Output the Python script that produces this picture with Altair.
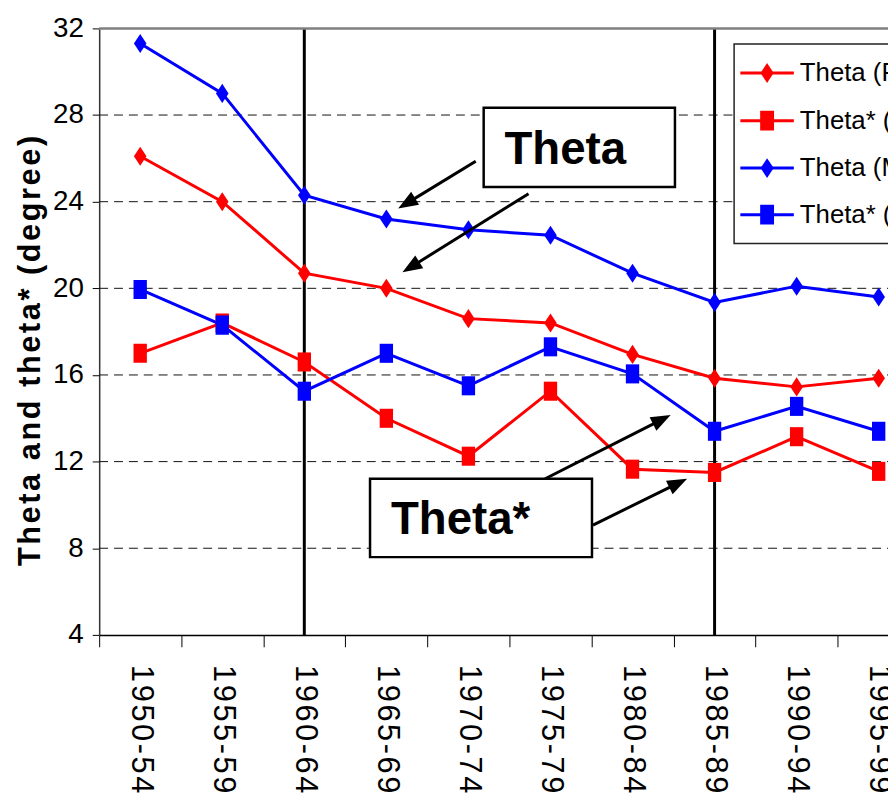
import math
import json
import altair as alt
import pandas as pd

# ---------------- data ----------------
periods = ["1950-54", "1955-59", "1960-64", "1965-69", "1970-74",
           "1975-79", "1980-84", "1985-89", "1990-94", "1995-99"]
series_names = ["Theta (F)", "Theta* (F)", "Theta (M)", "Theta* (M)"]
theta_f = [26.1, 24.0, 20.7, 20.0, 18.6, 18.4, 16.95, 15.85, 15.45, 15.85]
theta_star_f = [17.0, 18.4, 16.6, 14.0, 12.25, 15.25, 11.65, 11.5, 13.15, 11.55]
theta_m = [31.3, 29.0, 24.3, 23.2, 22.7, 22.45, 20.7, 19.35, 20.1, 19.6]
theta_star_m = [19.95, 18.3, 15.25, 17.0, 15.5, 17.3, 16.05, 13.4, 14.55, 13.4]
series_values = [theta_f, theta_star_f, theta_m, theta_star_m]
series_colors = ["#FF0000", "#FF0000", "#0000FF", "#0000FF"]
break_periods = ["1960-64", "1985-89"]
y_ticks = [4, 8, 12, 16, 20, 24, 28, 32]
grid_values = [8, 12, 16, 20, 24, 28]
y_title = "Theta and theta* (degree)"

# annotation boxes (data coordinates: x = period index, y = degrees)
box_labels = ["Theta", "Theta*"]
box_x1 = [4.186, 2.801]
box_x2 = [6.517, 5.506]
box_y1 = [28.34, 11.21]
box_y2 = [24.68, 7.59]
box_text_x = [5.18, 3.905]
box_text_y = [25.74, 8.66]
arrow_x1 = [4.089, 4.733, 4.935, 5.518]
arrow_y1 = [25.87, 24.37, 11.21, 9.07]
arrow_x2 = [3.144, 3.196, 6.465, 6.665]
arrow_y2 = [23.68, 20.74, 14.15, 11.21]

# legend placement (data coordinates)
legend_rows_y = [29.94, 27.74, 25.55, 23.40]
legend_box = [7.238, 9.9, 31.28, 22.07]
legend_line_x = [7.314, 7.966]
legend_sym_x = 7.64
legend_text_x = 8.039

# ---------------- styling ----------------
W, H = 796, 612
PX_X = 82.8
X_MAX = -0.5 + W / PX_X
PX_Y = H / 28.0
FONT = "Liberation Sans, Arial, sans-serif"
BOLD_FONT = "Liberation Sans, Arial, sans-serif"
DIAMOND = "M0,-1L0.66,0L0,1L-0.66,0Z"
SQUARE = "M-0.7,-1L0.7,-1L0.7,1L-0.7,1Z"
ARROW = "M0,0L0.38,1L-0.38,1Z"
series_shapes = [DIAMOND, SQUARE, DIAMOND, SQUARE]
HAIR = "\u200a"

spaced_periods = [HAIR.join(p) for p in periods]
label_expr = json.dumps(spaced_periods, ensure_ascii=False) + "[datum.value]"

XS = alt.Scale(domain=[-0.5, X_MAX], nice=False, zero=False)
YS = alt.Scale(domain=[4, 32], nice=False, zero=False)
X_AXIS = alt.Axis(values=list(range(len(periods))), labelExpr=label_expr, title=None,
                  tickOffset=-PX_X / 2, labelOffset=PX_X / 2, tickSize=12,
                  tickColor="black", tickWidth=1, domainColor="black", domainWidth=1.5,
                  labelAngle=90, labelAlign="left", labelBaseline="middle",
                  labelPadding=18, labelFont=FONT, labelFontSize=31, labelColor="black",
                  labelOverlap=False, labelFlush=False, grid=False)
Y_AXIS = alt.Axis(values=y_ticks, title=HAIR.join(y_title), titleFont=BOLD_FONT,
                  titleFontWeight="bold", titleFontSize=31, titleAngle=270,
                  titleX=-69, titleY=325, titleAlign="center", titleBaseline="middle",
                  titleColor="black", tickSize=7, tickColor="black", domainColor="#333333",
                  domainWidth=1.5, labelFont=FONT, labelFontSize=28, labelPadding=9,
                  labelColor="black", grid=False, format="d")


def xq(f):
    return alt.X(f"{f}:Q", scale=XS, axis=X_AXIS)


def yq(f):
    return alt.Y(f"{f}:Q", scale=YS, axis=Y_AXIS)


# ---------------- tables ----------------
rows = []
for name, vals in zip(series_names, series_values):
    for i, (p, v) in enumerate(zip(periods, vals)):
        rows.append({"idx": i, "period": p, "series": name, "value": v})
df = pd.DataFrame(rows)

grid_df = pd.DataFrame({"v": grid_values})
break_df = pd.DataFrame({"idx": [periods.index(p) for p in break_periods], "lo": 4, "hi": 32})
top_df = pd.DataFrame({"x1": [-0.5], "x2": [X_MAX], "v": [32]})

box_df = pd.DataFrame({"x1": box_x1, "x2": box_x2, "y1": box_y1, "y2": box_y2,
                       "tx": box_text_x, "ty": box_text_y, "label": box_labels})

arr = []
for x1, y1, x2, y2 in zip(arrow_x1, arrow_y1, arrow_x2, arrow_y2):
    dx = (x2 - x1) * PX_X
    dy = -(y2 - y1) * PX_Y
    L = math.hypot(dx, dy)
    ux, uy = dx / L, dy / L
    ang = math.degrees(math.atan2(dx, -dy)) % 360
    arr.append({"x1": x1, "y1": y1, "x2": x2, "y2": y2,
                "ex": x2 - 14 * ux / PX_X, "ey": y2 + 14 * uy / PX_Y, "angle": ang})
arrow_df = pd.DataFrame(arr)

leg_df = pd.DataFrame({"label": series_names, "y": legend_rows_y, "color": series_colors,
                       "shape": series_shapes, "lx1": legend_line_x[0], "lx2": legend_line_x[1],
                       "sx": legend_sym_x, "tx": legend_text_x})
legbox_df = pd.DataFrame({"x1": [legend_box[0]], "x2": [legend_box[1]],
                          "y1": [legend_box[2]], "y2": [legend_box[3]]})

# ---------------- layers ----------------
color_enc = alt.Color("series:N", scale=alt.Scale(domain=series_names, range=series_colors), legend=None)
shape_enc = alt.Shape("series:N", scale=alt.Scale(domain=series_names, range=series_shapes), legend=None)

grid = alt.Chart(grid_df).mark_rule(color="#111111", strokeWidth=1, strokeDash=[9, 6]).encode(
    y=yq("v"), x=alt.value(0), x2=alt.value(W))

breaks = alt.Chart(break_df).mark_rule(color="black", strokeWidth=3).encode(
    x=xq("idx"), y=yq("lo"), y2="hi")

top_border = alt.Chart(top_df).mark_rule(color="#808080", strokeWidth=2.5).encode(
    x=xq("x1"), x2="x2", y=yq("v"))

lines = alt.Chart(df).mark_line(strokeWidth=3, clip=True).encode(
    x=xq("idx"), y=yq("value"), color=color_enc, detail="series:N", order="idx:Q")

points = alt.Chart(df).mark_point(filled=True, opacity=1, size=370, clip=True).encode(
    x=xq("idx"), y=yq("value"), color=color_enc, shape=shape_enc)

boxes = alt.Chart(box_df).mark_rect(fill="white", stroke="black", strokeWidth=2.5).encode(
    x=xq("x1"), x2="x2", y=yq("y1"), y2="y2")
box_text = alt.Chart(box_df).mark_text(font=BOLD_FONT, fontWeight="bold", fontSize=46,
                                       align="center", baseline="alphabetic", color="black").encode(
    x=xq("tx"), y=yq("ty"), text="label:N")

shafts = alt.Chart(arrow_df).mark_rule(color="black", strokeWidth=3).encode(
    x=xq("x1"), y=yq("y1"), x2="ex", y2="ey")
heads = alt.Chart(arrow_df).mark_point(shape=ARROW, filled=True, opacity=1, size=1600,
                                       color="black").encode(
    x=xq("x2"), y=yq("y2"), angle=alt.Angle("angle:Q", scale=None))

leg_box = alt.Chart(legbox_df).mark_rect(fill="white", stroke="#222222", strokeWidth=1.5,
                                         clip=True).encode(
    x=xq("x1"), x2="x2", y=yq("y1"), y2="y2")
leg_lines = alt.Chart(leg_df).mark_rule(strokeWidth=3, clip=True).encode(
    x=xq("lx1"), x2="lx2", y=yq("y"), color=alt.Color("color:N", scale=None))
leg_syms = alt.Chart(leg_df).mark_point(filled=True, opacity=1, size=400, clip=True).encode(
    x=xq("sx"), y=yq("y"), color=alt.Color("color:N", scale=None),
    shape=alt.Shape("shape:N", scale=None))
leg_text = alt.Chart(leg_df).mark_text(font=FONT, fontSize=26, align="left", baseline="middle",
                                       color="black", clip=True).encode(
    x=xq("tx"), y=yq("y"), text="label:N")

chart = alt.layer(
    grid, breaks, top_border, lines, points, boxes, box_text, shafts, heads,
    leg_box, leg_lines, leg_syms, leg_text
).properties(
    width=W, height=H,
    padding={"left": 92, "top": 17, "right": 0, "bottom": 160},
    autosize=alt.AutoSizeParams(type="none"),
).configure_view(stroke=None).configure(background="white")

chart.save("out.html", embed_options={"renderer": "svg", "actions": False})
